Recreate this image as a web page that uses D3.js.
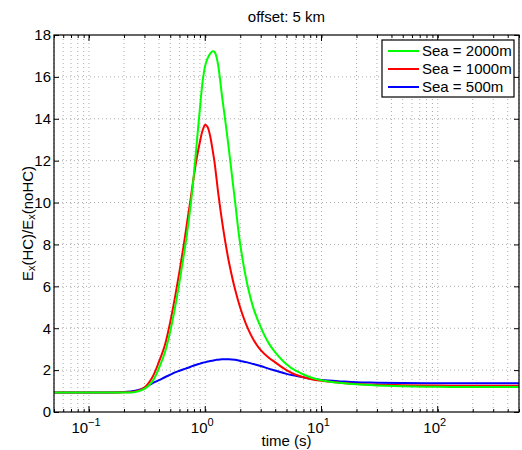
<!DOCTYPE html>
<html>
<head>
<meta charset="utf-8">
<script src="https://cdn.jsdelivr.net/npm/d3@7"></script>
<style>
  body { margin: 0; background: #fff; }
  svg { font-family: "Liberation Sans", Arial, sans-serif; }
</style>
</head>
<body>
<svg id="chart" width="522" height="450"></svg>
<script>
// data
const times = [0.05, 0.1, 0.2, 0.25, 0.3, 0.35, 0.4, 0.45, 0.5, 0.55, 0.6, 0.65, 0.7, 0.75,
  0.8, 0.85, 0.9, 0.95, 1.0, 1.05, 1.1, 1.15, 1.2, 1.25, 1.3, 1.4, 1.5, 1.6, 1.8, 2.0, 2.3, 2.6, 3.0, 3.5,
  4.0, 5.0, 6.0, 8.0, 10, 15, 20, 30, 50, 100, 200, 500];

const sea2000 = [0.93, 0.93, 0.93, 0.96, 1.1, 1.45, 2.1, 2.85, 3.85, 5.0, 6.2, 7.4, 8.6, 9.9,
  11.4, 13.0, 14.5, 15.8, 16.55, 16.9, 17.1, 17.22, 17.2, 16.95, 16.45, 15.0, 13.75, 12.5, 10.1, 8.0, 6.1, 4.95, 4.05, 3.3,
  2.85, 2.28, 1.97, 1.66, 1.52, 1.38, 1.32, 1.27, 1.23, 1.2, 1.19, 1.19];

const sea1000 = [0.93, 0.93, 0.94, 0.98, 1.17, 1.65, 2.4, 3.2, 4.3, 5.5, 6.7, 7.9, 9.1, 10.2,
  11.3, 12.2, 12.9, 13.45, 13.72, 13.6, 13.2, 12.6, 11.95, 11.15, 10.35, 9.05, 8.0, 7.15, 5.88, 4.98, 4.05, 3.45, 2.95, 2.6,
  2.37, 2.0, 1.78, 1.58, 1.49, 1.39, 1.34, 1.3, 1.28, 1.26, 1.25, 1.25];

const sea500 = [0.93, 0.93, 0.96, 1.02, 1.15, 1.37, 1.52, 1.66, 1.78, 1.89, 1.97, 2.04, 2.1, 2.16,
  2.22, 2.27, 2.31, 2.35, 2.38, 2.41, 2.43, 2.45, 2.47, 2.49, 2.5, 2.52, 2.52, 2.52, 2.49, 2.44, 2.37, 2.29, 2.2, 2.07,
  1.98, 1.82, 1.73, 1.6, 1.53, 1.46, 1.42, 1.4, 1.38, 1.37, 1.37, 1.37];

const seriesNames = ['Sea = 2000m', 'Sea = 1000m', 'Sea = 500m'];
const seriesColors = ['#00ff00', '#ff0000', '#0000ff'];
const yTicks = [0, 2, 4, 6, 8, 10, 12, 14, 16, 18];
const xMajor = [0.1, 1, 10, 100];
const xExponents = [-1, 0, 1, 2];

const series = [sea2000, sea1000, sea500].map((vals, i) => ({
  name: seriesNames[i],
  color: seriesColors[i],
  values: times.map((t, j) => ({ x: t, y: vals[j] }))
}));

const margin = { top: 35, right: 3, bottom: 38, left: 54 };
const W = 522, H = 450;
const width = W - margin.left - margin.right;
const height = H - margin.top - margin.bottom;

const svg = d3.select('#chart');
const g = svg.append('g').attr('transform', `translate(${margin.left},${margin.top})`);

const xScale = d3.scaleLog().domain([0.05, 500]).range([0, width]);
const yScale = d3.scaleLinear().domain([0, 18]).range([height, 0]);

// minor tick positions for the log axis
let xMinor = [];
for (let e = -2; e <= 2; e++) {
  for (let k = 1; k <= 9; k++) {
    const v = k * Math.pow(10, e);
    if (v >= 0.05 && v <= 500) xMinor.push(v);
  }
}

// grid
const grid = g.append('g').attr('class', 'grid')
  .attr('stroke', '#000').attr('stroke-width', 0.6)
  .attr('stroke-dasharray', '1,3').attr('opacity', 0.55);

grid.selectAll('.vx').data(xMinor).enter().append('line')
  .attr('x1', d => xScale(d)).attr('x2', d => xScale(d))
  .attr('y1', 0).attr('y2', height);

grid.selectAll('.hy').data(yTicks.slice(1, -1)).enter().append('line')
  .attr('x1', 0).attr('x2', width)
  .attr('y1', d => yScale(d)).attr('y2', d => yScale(d));

// lines
const line = d3.line()
  .curve(d3.curveCatmullRom.alpha(0.5))
  .x(d => xScale(d.x))
  .y(d => yScale(d.y));

g.append('g').attr('class', 'lines')
  .selectAll('path').data(series.slice().reverse()).enter().append('path')
  .attr('d', d => line(d.values))
  .attr('fill', 'none')
  .attr('stroke', d => d.color)
  .attr('stroke-width', 2);

// axes, ticks pointing inward
const xAxisBottom = d3.axisBottom(xScale).tickValues(xMinor).tickSize(-3).tickFormat('');
const xAxisTop = d3.axisTop(xScale).tickValues(xMinor).tickSize(-3).tickFormat('');
const yAxisLeft = d3.axisLeft(yScale).tickValues(yTicks).tickSize(-5).tickPadding(3).tickSizeOuter(0);
const yAxisRight = d3.axisRight(yScale).tickValues(yTicks).tickSize(-5).tickFormat('').tickSizeOuter(0);

const gX = g.append('g').attr('transform', `translate(0,${height})`).call(xAxisBottom);
const gXt = g.append('g').call(xAxisTop);
const gY = g.append('g').call(yAxisLeft);
const gYr = g.append('g').attr('transform', `translate(${width},0)`).call(yAxisRight);

// major x ticks longer
[[gX, -6], [gXt, 6]].forEach(([sel, dy]) => {
  sel.selectAll('.major').data(xMajor).enter().append('line')
    .attr('x1', d => xScale(d)).attr('x2', d => xScale(d))
    .attr('y1', 0).attr('y2', dy).attr('stroke', '#000');
});

[gX, gXt, gY, gYr].forEach(sel => {
  sel.select('.domain').remove();
  sel.selectAll('line').attr('stroke', '#000');
});

gY.selectAll('text').attr('font-size', 15).attr('fill', '#000')
  .attr('font-family', '"Liberation Sans", Arial, sans-serif');

// x tick labels with superscripts
const xl = g.append('g').selectAll('text').data(xMajor).enter().append('text')
  .attr('x', d => xScale(d) - 3)
  .attr('y', height + 21)
  .attr('text-anchor', 'middle')
  .attr('font-size', 15);
xl.append('tspan').text('10');
xl.append('tspan').attr('dy', -7).attr('font-size', 11)
  .text((d, i) => xExponents[i] < 0 ? '\u2212' + Math.abs(xExponents[i]) : xExponents[i]);

// box
g.append('rect').attr('width', width).attr('height', height)
  .attr('fill', 'none').attr('stroke', '#000').attr('stroke-width', 1.2);

// title and labels
svg.append('text').attr('x', margin.left + width / 2).attr('y', 22)
  .attr('text-anchor', 'middle').attr('font-size', 15).text('offset: 5 km');

svg.append('text').attr('x', margin.left + width / 2).attr('y', 446)
  .attr('text-anchor', 'middle').attr('font-size', 15).text('time (s)');

const yl = svg.append('text')
  .attr('transform', `translate(33,${margin.top + height / 2}) rotate(-90)`)
  .attr('text-anchor', 'middle').attr('font-size', 15);
yl.append('tspan').text('E');
yl.append('tspan').attr('font-size', 11).attr('dy', 2).text('x');
yl.append('tspan').attr('dy', -2).text('(HC)/E');
yl.append('tspan').attr('font-size', 11).attr('dy', 2).text('x');
yl.append('tspan').attr('dy', -2).text('(noHC)');

// legend
const legend = svg.append('g').attr('transform', 'translate(382,40)');
legend.append('rect').attr('width', 132).attr('height', 57)
  .attr('fill', '#fff').attr('stroke', '#000').attr('stroke-width', 1.2);
const items = legend.selectAll('.item').data(series).enter().append('g')
  .attr('transform', (d, i) => `translate(0,${11 + i * 18})`);
items.append('line').attr('x1', 6).attr('x2', 37).attr('y1', 0).attr('y2', 0)
  .attr('stroke', d => d.color).attr('stroke-width', 2);
items.append('text').attr('x', 40).attr('y', 5).attr('font-size', 15).text(d => d.name);
</script>
</body>
</html>
